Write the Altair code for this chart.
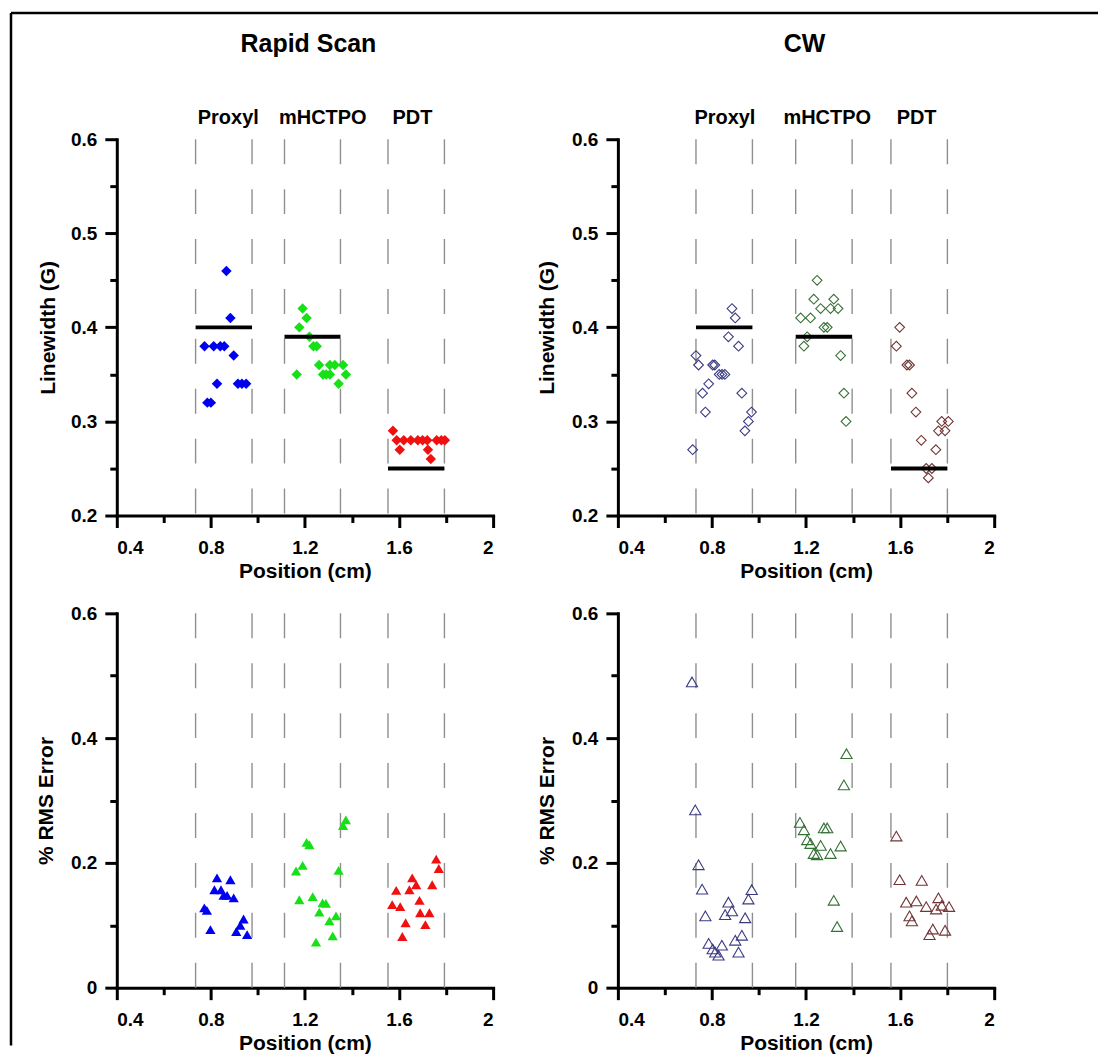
import altair as alt
import pandas as pd

FONT = "Liberation Sans"
GROUPS = ["Proxyl", "mHCTPO", "PDT"]

# ---------------- Rapid Scan : linewidth (G) ----------------
rs_lw_proxyl_x = [0.866, 0.883, 0.773, 0.812, 0.840, 0.857, 0.897, 0.826, 0.915, 0.932, 0.950, 0.785, 0.800]
rs_lw_proxyl_y = [0.46, 0.41, 0.38, 0.38, 0.38, 0.38, 0.37, 0.34, 0.34, 0.34, 0.34, 0.32, 0.32]
rs_lw_mhctpo_x = [1.190, 1.207, 1.176, 1.219, 1.236, 1.250, 1.260, 1.306, 1.327, 1.362, 1.165, 1.277, 1.290, 1.306, 1.374, 1.343]
rs_lw_mhctpo_y = [0.42, 0.41, 0.40, 0.39, 0.38, 0.38, 0.36, 0.36, 0.36, 0.36, 0.35, 0.35, 0.35, 0.35, 0.35, 0.34]
rs_lw_pdt_x = [1.574, 1.590, 1.620, 1.650, 1.680, 1.700, 1.720, 1.760, 1.780, 1.795, 1.603, 1.723, 1.735]
rs_lw_pdt_y = [0.29, 0.28, 0.28, 0.28, 0.28, 0.28, 0.28, 0.28, 0.28, 0.28, 0.27, 0.27, 0.26]

# ---------------- CW : linewidth (G) ----------------
cw_lw_proxyl_x = [0.885, 0.899, 0.870, 0.913, 0.732, 0.743, 0.803, 0.812, 0.831, 0.843, 0.855, 0.786, 0.760, 0.927, 0.772, 0.968, 0.955, 0.940, 0.718]
cw_lw_proxyl_y = [0.42, 0.41, 0.39, 0.38, 0.37, 0.36, 0.36, 0.36, 0.35, 0.35, 0.35, 0.34, 0.33, 0.33, 0.31, 0.31, 0.30, 0.29, 0.27]
cw_lw_mhctpo_x = [1.247, 1.233, 1.318, 1.262, 1.304, 1.336, 1.177, 1.219, 1.276, 1.290, 1.205, 1.191, 1.347, 1.361, 1.370]
cw_lw_mhctpo_y = [0.45, 0.43, 0.43, 0.42, 0.42, 0.42, 0.41, 0.41, 0.40, 0.40, 0.39, 0.38, 0.37, 0.33, 0.30]
cw_lw_pdt_x = [1.598, 1.584, 1.629, 1.640, 1.650, 1.667, 1.777, 1.805, 1.763, 1.791, 1.690, 1.752, 1.711, 1.735, 1.720]
cw_lw_pdt_y = [0.40, 0.38, 0.36, 0.36, 0.33, 0.31, 0.30, 0.30, 0.29, 0.29, 0.28, 0.27, 0.25, 0.25, 0.24]

# ---------------- Rapid Scan : % RMS error ----------------
rs_rms_proxyl_x = [0.826, 0.883, 0.815, 0.843, 0.854, 0.869, 0.897, 0.772, 0.783, 0.939, 0.925, 0.798, 0.908, 0.954]
rs_rms_proxyl_y = [0.176, 0.173, 0.157, 0.157, 0.148, 0.148, 0.144, 0.128, 0.124, 0.110, 0.100, 0.093, 0.090, 0.085]
rs_rms_mhctpo_x = [1.374, 1.362, 1.207, 1.219, 1.190, 1.162, 1.343, 1.176, 1.233, 1.275, 1.289, 1.261, 1.332, 1.304, 1.318, 1.247]
rs_rms_mhctpo_y = [0.269, 0.260, 0.233, 0.229, 0.196, 0.187, 0.188, 0.141, 0.146, 0.136, 0.135, 0.121, 0.115, 0.107, 0.083, 0.073]
rs_rms_pdt_x = [1.758, 1.769, 1.656, 1.673, 1.644, 1.741, 1.588, 1.687, 1.571, 1.605, 1.690, 1.729, 1.628, 1.712, 1.614]
rs_rms_pdt_y = [0.206, 0.191, 0.176, 0.165, 0.157, 0.165, 0.156, 0.140, 0.133, 0.130, 0.120, 0.120, 0.104, 0.101, 0.082]

# ---------------- CW : % RMS error ----------------
cw_rms_proxyl_x = [0.715, 0.729, 0.743, 0.758, 0.772, 0.870, 0.885, 0.856, 0.969, 0.955, 0.941, 0.927, 0.899, 0.913, 0.786, 0.803, 0.814, 0.842, 0.828]
cw_rms_proxyl_y = [0.490, 0.285, 0.197, 0.158, 0.115, 0.137, 0.123, 0.117, 0.157, 0.142, 0.112, 0.084, 0.076, 0.057, 0.071, 0.062, 0.057, 0.068, 0.052]
cw_rms_mhctpo_x = [1.372, 1.361, 1.174, 1.191, 1.276, 1.290, 1.205, 1.219, 1.262, 1.347, 1.233, 1.247, 1.304, 1.318, 1.332]
cw_rms_mhctpo_y = [0.375, 0.325, 0.265, 0.253, 0.256, 0.256, 0.237, 0.231, 0.228, 0.227, 0.215, 0.213, 0.215, 0.140, 0.098]
cw_rms_pdt_x = [1.584, 1.598, 1.692, 1.626, 1.669, 1.763, 1.711, 1.753, 1.777, 1.808, 1.640, 1.650, 1.739, 1.791, 1.725]
cw_rms_pdt_y = [0.243, 0.173, 0.172, 0.137, 0.139, 0.144, 0.130, 0.126, 0.132, 0.130, 0.115, 0.107, 0.094, 0.092, 0.085]

# group boundaries (dashed lines), reference linewidths and label positions
rs_bounds_left = [0.735, 1.113, 1.553]
rs_bounds_right = [0.975, 1.351, 1.793]
cw_bounds_left = [0.732, 1.156, 1.561]
cw_bounds_right = [0.972, 1.396, 1.801]
ref_linewidth = [0.40, 0.39, 0.25]
rs_label_x = [0.874, 1.276, 1.657]
cw_label_x = [0.855, 1.290, 1.670]

X_TICKS = [0.4, 0.6, 0.8, 1.0, 1.2, 1.4, 1.6, 1.8, 2.0]
X_MAJOR = [0.4, 0.8, 1.2, 1.6, 2.0]
LW_TICKS = [0.2, 0.25, 0.3, 0.35, 0.4, 0.45, 0.5, 0.55, 0.6]
LW_MAJOR = [0.2, 0.3, 0.4, 0.5, 0.6]
RMS_TICKS = [0.0, 0.1, 0.2, 0.3, 0.4, 0.5, 0.6]
RMS_MAJOR = [0.0, 0.2, 0.4, 0.6]

RS_COLORS = ["#0000f0", "#18e018", "#f01010"]
CW_COLORS = ["#3a3a82", "#357035", "#723535"]

W = 377


def points_df(xs, ys):
    rows = []
    for g, x, y in zip(GROUPS, xs, ys):
        for xi, yi in zip(x, y):
            rows.append({"group": g, "x": xi, "y": yi})
    return pd.DataFrame(rows)


def make_axis(ticks, major, title, orient, height=None, title_x=None):
    arr = "[" + ",".join(repr(v) for v in major) + "]"
    test = f"indexof({arr}, datum.value) >= 0"
    kw = dict(
        values=ticks,
        title=title,
        orient=orient,
        labelExpr=f"{test} ? format(datum.value, '~g') : ''",
        tickSize={"condition": {"test": test, "value": 12}, "value": 7},
        grid=False,
    )
    if orient == "bottom":
        kw.update(labelPadding=11, titleY=56, titleBaseline="middle")
    else:
        kw.update(labelPadding=8, titleBaseline="middle", titleAngle=-90,
                  titleX=title_x, titleY=height / 2)
    return alt.Axis(**kw)


def panel(pts, bl, br, label_x, ydom, yticks, ymajor, ytitle, shape, filled,
          size, colors, height, title_text, title_x, means=True, frame=False,
          ytitle_x=-68):
    xs = alt.Scale(domain=[0.4, 2.0], nice=False, zero=False)
    ys = alt.Scale(domain=ydom, nice=False, zero=False)
    xax = make_axis(X_TICKS, X_MAJOR, "Position (cm)", "bottom")
    yax = make_axis(yticks, ymajor, ytitle, "left", height, ytitle_x)

    dash_df = pd.DataFrame({"pos": bl + br})
    dash = alt.Chart(dash_df).mark_rule(
        color="#8f8f8f", strokeWidth=1.4, strokeDash=[25, 25]
    ).encode(x=alt.X("pos:Q", scale=xs, axis=xax))

    pt = alt.Chart(pts).mark_point(
        shape=shape, filled=filled, size=size, opacity=1, strokeWidth=1.1
    ).encode(
        x=alt.X("x:Q", scale=xs, axis=xax),
        y=alt.Y("y:Q", scale=ys, axis=yax),
        color=alt.Color("group:N", scale=alt.Scale(domain=GROUPS, range=colors), legend=None),
    )
    layers = [dash, pt]

    if means:
        gdf = pd.DataFrame({"group": GROUPS, "l": bl, "r": br, "m": ref_linewidth, "lx": label_x})
        mean = alt.Chart(gdf).mark_rule(color="black", strokeWidth=4).encode(
            x=alt.X("l:Q", scale=xs, axis=xax), x2="r:Q",
            y=alt.Y("m:Q", scale=ys, axis=yax),
        )
        lab = alt.Chart(gdf).mark_text(
            font=FONT, fontSize=20, fontWeight="bold", baseline="middle", color="black"
        ).encode(x=alt.X("lx:Q", scale=xs, axis=xax), y=alt.value(-21), text="group:N")
        layers += [mean, lab]

    if title_text:
        tdf = pd.DataFrame({"t": [title_text]})
        ttl = alt.Chart(tdf).mark_text(
            font=FONT, fontSize=25, fontWeight="bold", baseline="middle", color="black"
        ).encode(x=alt.value(title_x), y=alt.value(-95), text="t:N")
        layers.append(ttl)

    if frame:
        fdf = pd.DataFrame({"k": [0]})
        fv = alt.Chart(fdf).mark_rule(color="black", strokeWidth=2.5).encode(
            x=alt.value(-106), y=alt.value(-126.5), y2=alt.value(908))
        fh = alt.Chart(fdf).mark_rule(color="black", strokeWidth=2.5).encode(
            x=alt.value(-106), x2=alt.value(983), y=alt.value(-126.5))
        layers += [fv, fh]

    return alt.layer(*layers).properties(width=W, height=height)


tl = panel(points_df([rs_lw_proxyl_x, rs_lw_mhctpo_x, rs_lw_pdt_x], [rs_lw_proxyl_y, rs_lw_mhctpo_y, rs_lw_pdt_y]),
           rs_bounds_left, rs_bounds_right, rs_label_x, [0.2, 0.6], LW_TICKS, LW_MAJOR, "Linewidth (G)",
           "diamond", True, 110, RS_COLORS, 377, "Rapid Scan", 192, frame=True)
tr = panel(points_df([cw_lw_proxyl_x, cw_lw_mhctpo_x, cw_lw_pdt_x], [cw_lw_proxyl_y, cw_lw_mhctpo_y, cw_lw_pdt_y]),
           cw_bounds_left, cw_bounds_right, cw_label_x, [0.2, 0.6], LW_TICKS, LW_MAJOR, "Linewidth (G)",
           "diamond", False, 95, CW_COLORS, 377, "CW", 187, ytitle_x=-70)
bl_ = panel(points_df([rs_rms_proxyl_x, rs_rms_mhctpo_x, rs_rms_pdt_x], [rs_rms_proxyl_y, rs_rms_mhctpo_y, rs_rms_pdt_y]),
            rs_bounds_left, rs_bounds_right, rs_label_x, [0.0, 0.6], RMS_TICKS, RMS_MAJOR, "% RMS Error",
            "triangle-up", True, 105, RS_COLORS, 375, None, 0, means=False, ytitle_x=-70)
br_ = panel(points_df([cw_rms_proxyl_x, cw_rms_mhctpo_x, cw_rms_pdt_x], [cw_rms_proxyl_y, cw_rms_mhctpo_y, cw_rms_pdt_y]),
            cw_bounds_left, cw_bounds_right, cw_label_x, [0.0, 0.6], RMS_TICKS, RMS_MAJOR, "% RMS Error",
            "triangle-up", False, 125, CW_COLORS, 375, None, 0, means=False, ytitle_x=-70)

chart = alt.concat(
    tl, tr, bl_, br_, columns=2, spacing={"row": 98, "column": 125}, bounds="flush"
).resolve_scale(color="independent").properties(
    padding={"left": 1, "top": 2.5, "right": 0, "bottom": 0}, background="white"
).configure_view(stroke=None).configure_axis(
    domainColor="black", domainWidth=3, domainCap="square",
    tickColor="black", tickWidth=3,
    labelFont=FONT, labelFontSize=19, labelFontWeight="bold", labelColor="black",
    titleFont=FONT, titleFontSize=21, titleFontWeight="bold", titleColor="black",
)

chart.save("out.html", embed_options={"renderer": "svg", "actions": False})
